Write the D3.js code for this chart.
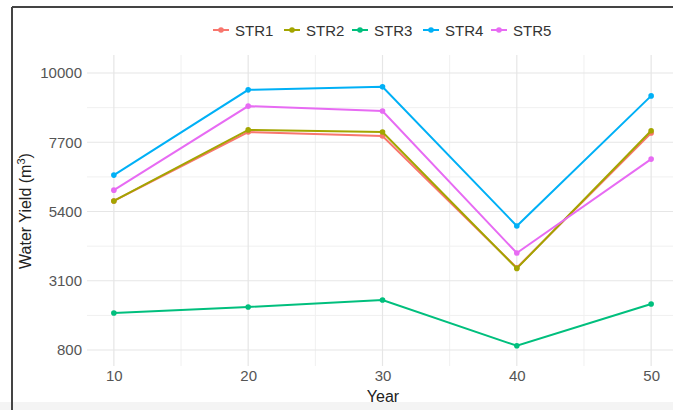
<!DOCTYPE html>
<html><head><meta charset="utf-8">
<script src="https://cdn.jsdelivr.net/npm/d3@7"></script>
<style>body{margin:0;background:#fff}svg{display:block;font-family:"Liberation Sans",Arial,sans-serif}</style>
</head><body><svg id="c" width="673" height="410"></svg>
<script>
const years = [10, 20, 30, 40, 50];
const seriesNames = ["STR1", "STR2", "STR3", "STR4", "STR5"];
const str1 = [5750, 8040, 7910, 3530, 8010];
const str2 = [5750, 8110, 8040, 3510, 8080];
const str3 = [2030, 2230, 2460, 940, 2330];
const str4 = [6610, 9440, 9540, 4920, 9240];
const str5 = [6110, 8900, 8740, 4020, 7140];
const yTicks = [800, 3100, 5400, 7700, 10000];
const xTicks = [10, 20, 30, 40, 50];
const colors = ["#F8766D", "#A3A500", "#00BF7D", "#00B0F6", "#E76BF3"];
const allSeries = [str1, str2, str3, str4, str5];

const svg = d3.select("#c");
// frame
svg.append("rect").attr("x",0).attr("y",402).attr("width",673).attr("height",8).attr("fill","#f4f4f4");
svg.append("line").attr("x1",12).attr("x2",673).attr("y1",7).attr("y2",7).attr("stroke","#444").attr("stroke-width",2);
svg.append("line").attr("x1",12).attr("x2",12).attr("y1",7).attr("y2",410).attr("stroke","#444").attr("stroke-width",2);

const x = d3.scaleLinear().domain([8, 52]).range([87, 678]);
const y = d3.scaleLinear().domain([269, 10598]).range([366, 55]);

const g = svg.append("g");
// minor grid
const yMinor = d3.pairs(yTicks).map(p => (p[0]+p[1])/2);
const xMinor = d3.pairs(xTicks).map(p => (p[0]+p[1])/2);
g.selectAll(".ym").data(yMinor).join("line").attr("x1",87).attr("x2",673).attr("y1",d=>y(d)).attr("y2",d=>y(d)).attr("stroke","#f0f0f0").attr("stroke-width",1);
g.selectAll(".xm").data(xMinor).join("line").attr("y1",55).attr("y2",366).attr("x1",d=>x(d)).attr("x2",d=>x(d)).attr("stroke","#f0f0f0").attr("stroke-width",1);
g.selectAll(".yg").data(yTicks).join("line").attr("x1",87).attr("x2",673).attr("y1",d=>y(d)).attr("y2",d=>y(d)).attr("stroke","#e6e6e6").attr("stroke-width",1.2);
g.selectAll(".xg").data(xTicks).join("line").attr("y1",55).attr("y2",366).attr("x1",d=>x(d)).attr("x2",d=>x(d)).attr("stroke","#e6e6e6").attr("stroke-width",1.2);

// axes labels via d3 axes
const yAxis = svg.append("g").attr("transform","translate(87,0)").call(d3.axisLeft(y).tickValues(yTicks).tickSize(0).tickPadding(5).tickFormat(d3.format("d")));
yAxis.select(".domain").remove();
yAxis.selectAll("text").attr("fill","#555").attr("font-size","15px").attr("font-family","Liberation Sans, Arial, sans-serif");
const xAxis = svg.append("g").attr("transform","translate(0,366)").call(d3.axisBottom(x).tickValues(xTicks).tickSize(0).tickPadding(4).tickFormat(d3.format("d")));
xAxis.select(".domain").remove();
xAxis.selectAll("text").attr("fill","#555").attr("font-size","15px").attr("font-family","Liberation Sans, Arial, sans-serif");

// titles
svg.append("text").attr("x",383).attr("y",402).attr("text-anchor","middle").attr("font-size","16px").attr("fill","#222").text("Year");
const yt = svg.append("text").attr("transform","translate(31,211) rotate(-90)").attr("text-anchor","middle").attr("font-size","16px").attr("fill","#222");
yt.append("tspan").text("Water Yield (m");
yt.append("tspan").attr("font-size","11px").attr("dy","-6").text("3");
yt.append("tspan").attr("dy","6").text(")");

// lines
const line = d3.line().x((d,i)=>x(years[i])).y(d=>y(d));
allSeries.forEach((s,k)=>{
  g.append("path").datum(s).attr("d",line).attr("fill","none").attr("stroke",colors[k]).attr("stroke-width",2);
  g.selectAll(".p"+k).data(s).join("circle").attr("cx",(d,i)=>x(years[i])).attr("cy",d=>y(d)).attr("r",2.8).attr("fill",colors[k]);
});

// legend
const legX = [221, 292, 360, 431, 499];
const leg = svg.append("g");
seriesNames.forEach((n,k)=>{
  leg.append("line").attr("x1",legX[k]-8).attr("x2",legX[k]+8).attr("y1",30).attr("y2",30).attr("stroke",colors[k]).attr("stroke-width",2);
  leg.append("circle").attr("cx",legX[k]).attr("cy",30).attr("r",2.8).attr("fill",colors[k]);
  leg.append("text").attr("x",legX[k]+14).attr("y",35.5).attr("font-size","15px").attr("fill","#333").text(n);
});
</script></body></html>
